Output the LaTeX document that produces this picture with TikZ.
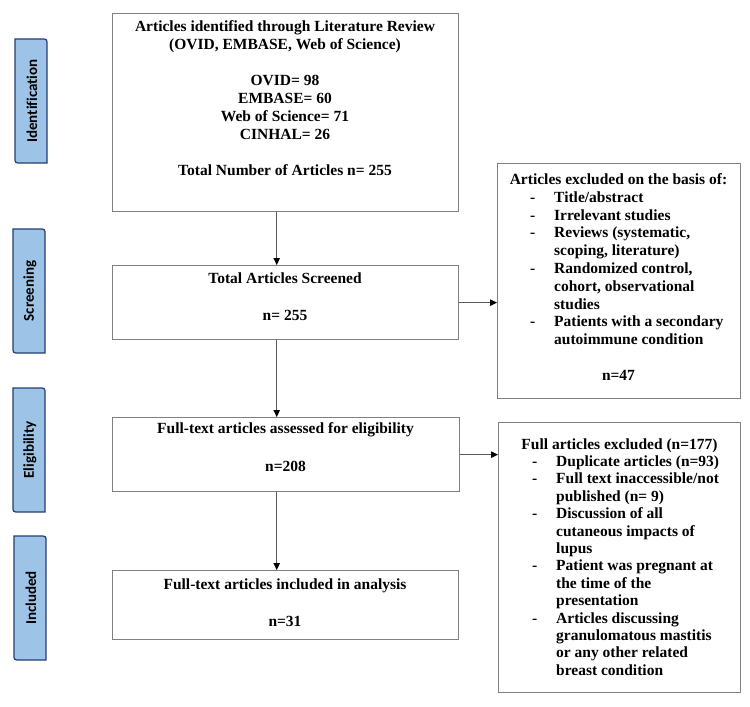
\documentclass[tikz,border=0pt]{standalone}
\usepackage{fontspec}
\setmainfont{Liberation Serif}
\newfontfamily\labfont[Ligatures={NoCommon}]{Carlito}
\usetikzlibrary{arrows.meta}
\definecolor{boxgray}{RGB}{128,128,128}
\definecolor{arrgray}{RGB}{90,90,90}
\definecolor{labfill}{RGB}{157,195,230}
\definecolor{labedge}{RGB}{38,60,115}
\newcommand\labbox[6]{%
  \draw[labedge, fill=labfill, line width=1.2pt]
    (#1,#2) -- ({#3-6},#2) .. controls (#3,#2) .. (#3,{#2+6})
    -- (#3,#4) -- ({#1+6},#4) .. controls (#1,#4) .. (#1,{#4-6}) -- cycle;
  \node[labtxt] (#6) at ({(#1+#3)/2+1},{(#2+#4)/2}) {#5};}
\newcommand\dashitem{\llap{-\hspace{19pt}}}
\begin{document}
\begin{tikzpicture}[x=1pt,y=-1pt,
  mainbox/.style={draw=boxgray, line width=1.3pt, inner sep=0pt, anchor=north west},
  txt/.style={inner sep=0pt, align=center, font=\fontsize{15.5}{18}\selectfont\bfseries},
  ltxt/.style={inner sep=0pt, align=left, anchor=north west, font=\fontsize{15.5}{17.8}\selectfont\bfseries},
  labtxt/.style={inner sep=0pt, rotate=90, font=\labfont\fontsize{15}{18}\selectfont\bfseries},
  arr/.style={draw=arrgray, line width=1pt, -{Triangle[length=7pt,width=6.5pt,fill=black,color=black]}}
]
\useasboundingbox (0,0) rectangle (750,707);

% phase labels
\labbox{15}{39}{47}{163}{Identification}{lid}
\labbox{13}{229}{45}{353}{Screening}{lsc}
\labbox{13}{388}{45}{512}{Eligibility}{lel}
\labbox{14}{536}{46}{660}{Included}{lin}

% main boxes
\node[mainbox, minimum width=346pt, minimum height=198pt] (b1) at (112,13) {};
\node[mainbox, minimum width=346pt, minimum height=74pt] (b2) at (112,265) {};
\node[mainbox, minimum width=347pt, minimum height=74pt] (b3) at (112,417) {};
\node[mainbox, minimum width=346pt, minimum height=69pt] (b4) at (112,570) {};
\node[mainbox, minimum width=243pt, minimum height=235pt] (r1) at (497,163) {};
\node[mainbox, minimum width=242pt, minimum height=270pt] (r2) at (498,422) {};

% box texts
\node[txt, anchor=north] (t1) at (285,20.4) {Articles identified through Literature Review\\(OVID, EMBASE, Web of Science)\\[18pt]OVID= 98\\EMBASE= 60\\Web of Science= 71\\CINHAL= 26\\[18pt]Total Number of Articles n= 255};
\node[txt, anchor=base] (t2a) at (285,283) {Total Articles Screened};
\node[txt, anchor=base] (t2b) at (285,320) {n= 255};
\node[txt, anchor=base] (t3a) at (285.5,433) {Full-text articles assessed for eligibility};
\node[txt, anchor=base] (t3b) at (285.5,471) {n=208};
\node[txt, anchor=base] (t4a) at (285,589) {Full-text articles included in analysis};
\node[txt, anchor=base] (t4b) at (285,626) {n=31};

% exclusion box 1
\node[txt, anchor=base] (r1h) at (618.5,184) {Articles excluded on the basis of:};
\node[ltxt] (r1i) at (554,191.4) {\dashitem Title/abstract\\\dashitem Irrelevant studies\\\dashitem Reviews (systematic,\\scoping, literature)\\\dashitem Randomized control,\\cohort, observational\\studies\\\dashitem Patients with a secondary\\autoimmune condition};
\node[txt, anchor=base] (r1n) at (618.5,380) {n=47};

% exclusion box 2
\node[txt, anchor=base] (r2h) at (619.5,449) {Full articles excluded (n=177)};
\node[ltxt, font=\fontsize{15.5}{17.4}\selectfont\bfseries] (r2i) at (556,455.6) {\dashitem Duplicate articles (n=93)\\\dashitem Full text inaccessible/not\\published (n= 9)\\\dashitem Discussion of all\\cutaneous impacts of\\lupus\\\dashitem Patient was pregnant at\\the time of the\\presentation\\\dashitem Articles discussing\\granulomatous mastitis\\or any other related\\breast condition};

% connectors
\coordinate (ax) at (276.7,0);
\draw[arr] (b1.south -| ax) -- (b2.north -| ax);
\draw[arr] (b2.south -| ax) -- (b3.north -| ax);
\draw[arr] (b3.south -| ax) -- (b4.north -| ax);
\draw[arr] (b2.east) -- (b2.east -| r1.west);
\draw[arr] (b3.east) -- (b3.east -| r2.west);
\end{tikzpicture}
\end{document}
